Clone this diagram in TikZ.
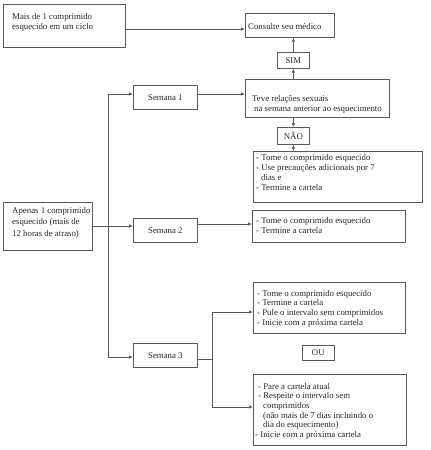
\documentclass[tikz,border=0pt]{standalone}
\usepackage{fontspec}
\setmainfont{Liberation Serif}
\usetikzlibrary{arrows.meta}
\begin{document}
\begin{tikzpicture}[x=1pt,y=-1pt,
  bx/.style={draw=black!65, line width=0.7pt, inner sep=0pt, anchor=north west},
  tx/.style={inner sep=0pt, anchor=base west, font=\fontsize{8.8}{10}\selectfont, text=black!85},
  ct/.style={inner sep=0pt, font=\fontsize{8.8}{10}\selectfont, text=black!85},
  ar/.style={draw=black!65, line width=0.7pt, -{Latex[length=4pt,width=3.5pt]}},
  ln/.style={draw=black!65, line width=0.7pt}]
\useasboundingbox (0,0) rectangle (431,450);
% boxes
\node[bx, minimum width=122pt, minimum height=43pt] (m1) at (3,4) {};
\node[bx, minimum width=89pt, minimum height=24pt] (cons) at (245,13) {};
\node[bx, minimum width=32pt, minimum height=16pt] (sim) at (277,52) {};
\node[bx, minimum width=144pt, minimum height=38pt] (teve) at (245,79) {};
\node[bx, minimum width=32pt, minimum height=17pt] (nao) at (277,127) {};
\node[bx, minimum width=169pt, minimum height=51pt] (r1) at (253,151) {};
\node[bx, minimum width=153pt, minimum height=32pt] (r2) at (252,210) {};
\node[bx, minimum width=64pt, minimum height=24pt] (s1) at (133,85) {};
\node[bx, minimum width=64pt, minimum height=24pt] (s2) at (133,218) {};
\node[bx, minimum width=64pt, minimum height=24pt] (s3) at (133,343) {};
\node[bx, minimum width=89pt, minimum height=48pt] (ap) at (3,202) {};
\node[bx, minimum width=152pt, minimum height=51pt] (r3a) at (253,282) {};
\node[bx, minimum width=32pt, minimum height=15pt] (ou) at (302,345) {};
\node[bx, minimum width=153pt, minimum height=71pt] (r3b) at (253,374) {};
% centred texts
\node[ct] at (sim.center) {SIM};
\node[ct] at (nao.center) {NÃO};
\node[ct] at (ou.center) {OU};
\node[ct] at (s1.center) {Semana 1};
\node[ct] at (s2.center) {Semana 2};
\node[ct] at (s3.center) {Semana 3};
% left texts
\node[tx] at (12,19) {Mais de 1 comprimido};
\node[tx] at (12,29.5) {esquecido em um ciclo};
\node[tx] at (248,29.5) {Consulte seu médico};
\node[tx] at (252,101.5) {Teve relações sexuais};
\node[tx] at (254,111.5) {na semana anterior ao esquecimento};
\node[tx] at (256,160) {- Tome o comprimido esquecido};
\node[tx] at (256,170) {- Use precauções adicionais por 7};
\node[tx] at (261,180) {dias e};
\node[tx] at (256,190) {- Termine a cartela};
\node[tx] at (256,223) {- Tome o comprimido esquecido};
\node[tx] at (256,233) {- Termine a cartela};
\node[tx] at (12,213) {Apenas 1 comprimido};
\node[tx] at (12,224.5) {esquecido (mais de};
\node[tx] at (12,236) {12 horas de atraso)};
\node[tx] at (257,296) {- Tome o comprimido esquecido};
\node[tx] at (257,305.7) {- Termine a cartela};
\node[tx] at (257,315.4) {- Pule o intervalo sem comprimidos};
\node[tx] at (257,325.1) {- Inicie com a próxima cartela};
\node[tx] at (258,389) {- Pare a cartela atual};
\node[tx] at (258,398.7) {- Respeite o intervalo sem};
\node[tx] at (263,408.4) {comprimidos};
\node[tx] at (263,418.1) {(não mais de 7 dias incluindo o};
\node[tx] at (263,427.8) {dia do esquecimento)};
\node[tx] at (255,437.5) {- Inicie com a próxima cartela};
% connector levels
\coordinate (y29) at (0,29);
\coordinate (t1) at (108,94);
\coordinate (t3) at (108,357);
\coordinate (y226) at (0,226);
\coordinate (y224) at (0,224);
\coordinate (b0) at (212,359);
\coordinate (b1) at (212,312);
\coordinate (b2) at (212,407);
% connectors
\draw[ar] (m1.east |- y29) -- (cons.west |- y29);
\draw[ar] (teve.north -| sim.south) -- (sim.south);
\draw[ar] (sim.north) -- (cons.south -| sim.north);
\draw[ar] (teve.south -| nao.north) -- (nao.north);
\draw[ar] (nao.south) -- (r1.north -| nao.south);
\draw[ln] (t1) -- (t3);
\draw[ar] (t1) -- (s1.west |- t1);
\draw[ar] (s1.east |- t1) -- (teve.west |- t1);
\draw[ar] (t3) -- (s3.west |- t3);
\draw[ar] (ap.east |- y226) -- (s2.west |- y226);
\draw[ar] (s2.east |- y224) -- (r2.west |- y224);
\draw[ln] (s3.east |- b0) -- (b0);
\draw[ln] (b1) -- (b2);
\draw[ar] (b1) -- (r3a.west |- b1);
\draw[ar] (b2) -- (r3b.west |- b2);
\end{tikzpicture}
\end{document}
